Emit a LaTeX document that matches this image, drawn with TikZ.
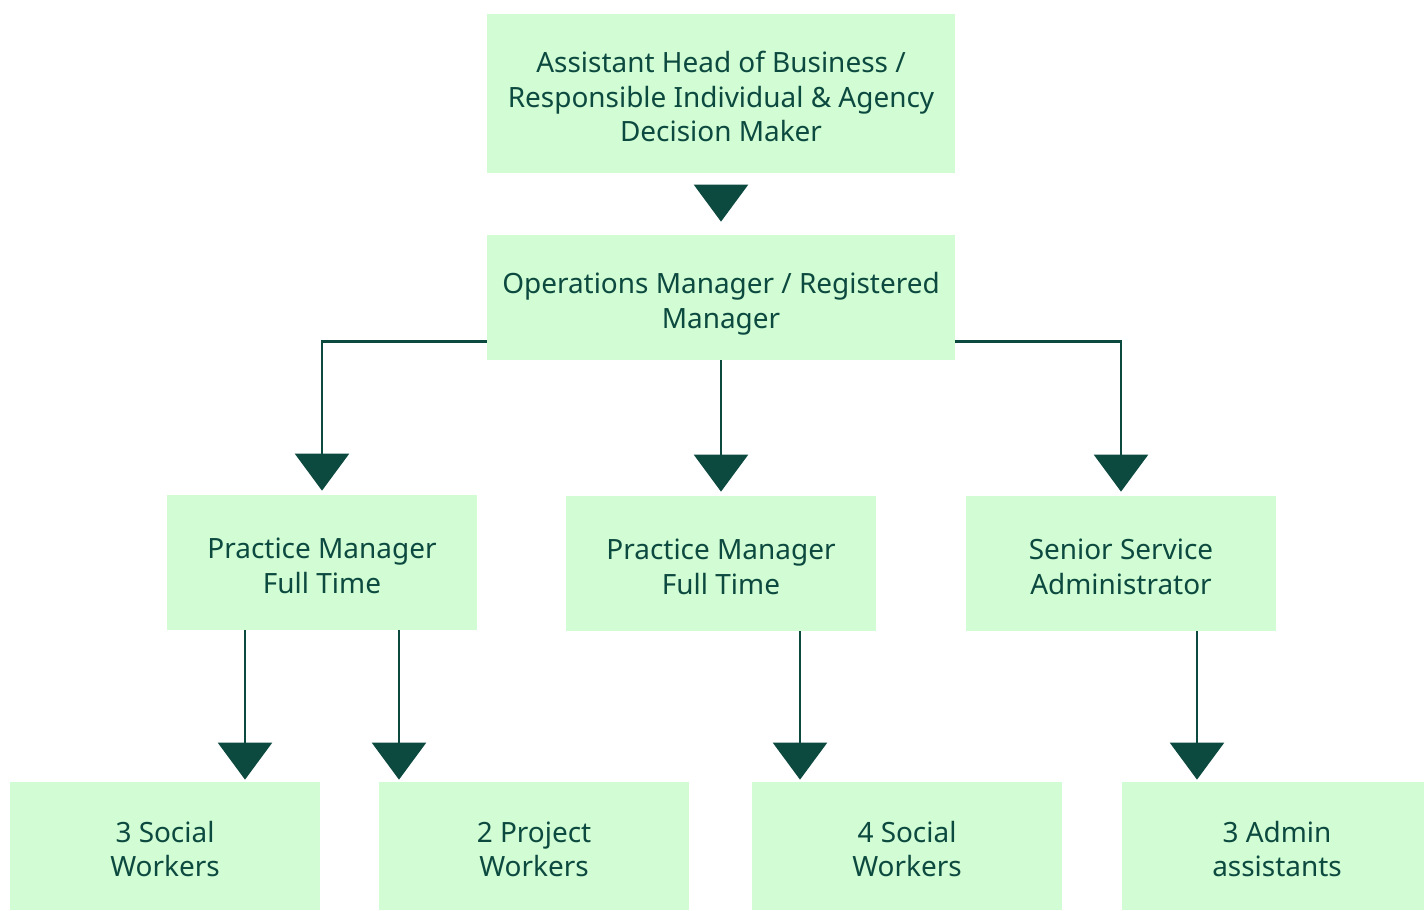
\documentclass[tikz,border=0pt]{standalone}
\usepackage{fontspec}
\setmainfont{Noto Sans}
\usetikzlibrary{arrows.meta}
\definecolor{boxfill}{HTML}{D1FCD4}
\definecolor{darkgreen}{HTML}{0C493F}
\begin{document}
\begin{tikzpicture}[x=0.02cm, y=-0.02cm, font=\fontsize{15.9}{19.4}\selectfont, >={Triangle[width=1.08cm,length=0.74cm]}]
	\tikzset{box/.style={fill=boxfill, text=darkgreen, align=center, inner sep=0pt, minimum width=6.2cm, text height=34.8pt, text depth=0pt},
		conn/.style={->, draw=darkgreen, line width=0.05cm}}
	\useasboundingbox (0,0) rectangle (1424,911);
	% top two levels
	\node[box, minimum width=9.36cm, minimum height=3.18cm, text height=54.2pt] (head) at (721,93.5) {Assistant Head of Business /\\Responsible Individual \& Agency\\Decision Maker};
	\node[box, minimum width=9.36cm, minimum height=2.5cm] (ops) at (721,297.5) {Operations Manager / Registered\\Manager};
	% third level
	\node[box, minimum height=2.7cm] (pmA) at (322,562.5) {Practice Manager\\Full Time};
	\node[box, minimum height=2.7cm] (pmB) at (721,563.5) {Practice Manager\\Full Time};
	\node[box, minimum height=2.7cm] (ssa) at (1121,563.5) {Senior Service\\Administrator};
	% bottom level
	\foreach \n/\x/\t in {swA/165/3 Social\\Workers, pwA/534/2 Project\\Workers, swB/907/4 Social\\Workers, adm/1277/3 Admin\\assistants}
		\node[box, minimum height=2.56cm] (\n) at (\x,846) {\t};
	% connectors
	\draw[conn, shorten <=0.25cm, shorten >=0.26cm] (head.south) -- (ops.north);
	\draw[conn, shorten >=0.08cm] (ops.south west) ++(0,-19) -| (pmA.north);
	\draw[conn, shorten >=0.08cm] (ops.south) -- (pmB.north);
	\draw[conn, shorten >=0.08cm] (ops.south east) ++(0,-19) -| (ssa.north);
	\draw[conn, shorten >=0.04cm] (pmA.south) ++(-77,0) coordinate (a1) -- (a1 |- swA.north);
	\draw[conn, shorten >=0.04cm] (pmA.south) ++(77,0) coordinate (a2) -- (a2 |- pwA.north);
	\draw[conn, shorten >=0.04cm] (pmB.south) ++(79,0) coordinate (b1) -- (b1 |- swB.north);
	\draw[conn, shorten >=0.04cm] (ssa.south) ++(76,0) coordinate (c1) -- (c1 |- adm.north);
\end{tikzpicture}
\end{document}
